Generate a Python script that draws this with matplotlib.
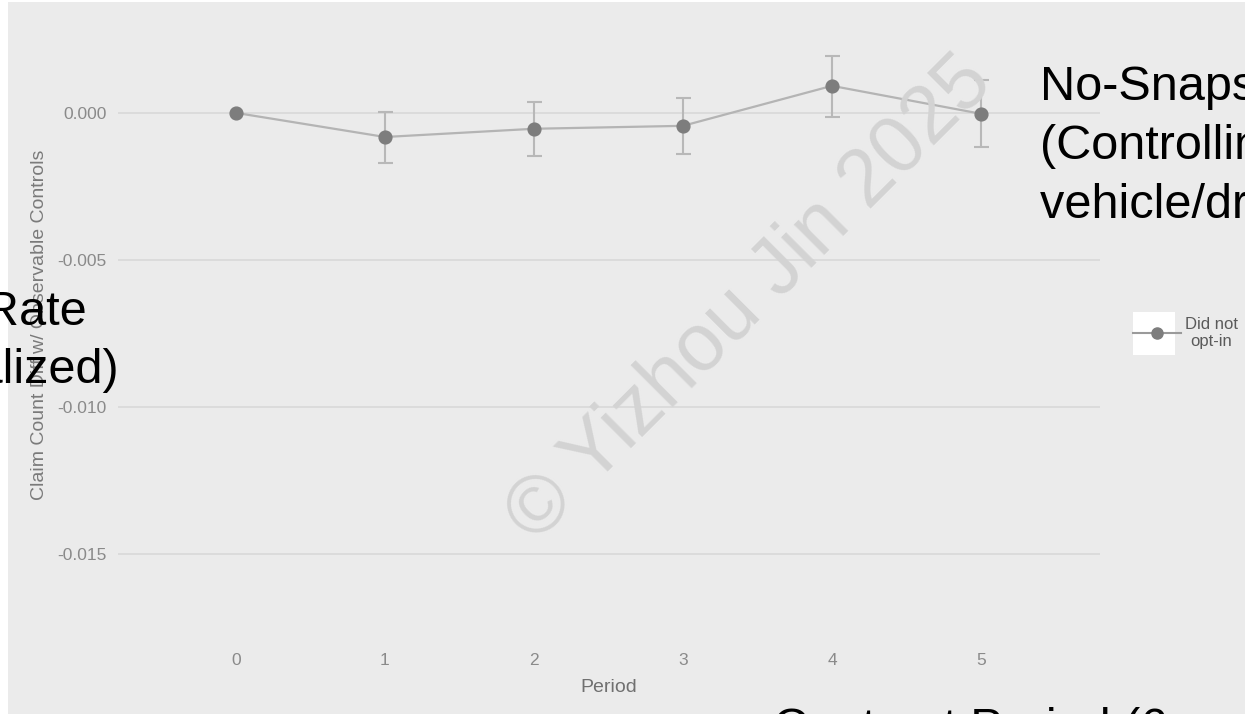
#!/usr/bin/env python3

import numpy as np
import matplotlib.pyplot as plt
from matplotlib.lines import Line2D
from matplotlib.patches import Rectangle

# claim count difference by contract period, drivers who did not opt in
periods = [0, 1, 2, 3, 4, 5]
estimate = [0.0, -0.00082, -0.00054, -0.00044, 0.00092, -0.00003]
ci_low = [np.nan, -0.00170, -0.00146, -0.00140, -0.00014, -0.00116]
ci_high = [np.nan, 0.00003, 0.00037, 0.00051, 0.00194, 0.00112]

yticks = [0.0, -0.005, -0.010, -0.015]
ytick_labels = ['0.000', '-0.005', '-0.010', '-0.015']
series_name = 'Did not\nopt-in'

W, H = 1245, 714
BG = '#ebebeb'

plt.rcParams['font.family'] = ['Liberation Sans', 'DejaVu Sans']

def fx(px):
    return px / W

def fy(py):
    return 1 - py / H

fig = plt.figure(figsize=(W / 100, H / 100), dpi=100, facecolor=BG)

# thin white border on the left and top edge
fig.patches.append(Rectangle((0, 0), fx(8), 1, transform=fig.transFigure,
                             facecolor='white', edgecolor='none', zorder=-5))
fig.patches.append(Rectangle((0, fy(2)), 1, 1 - fy(2), transform=fig.transFigure,
                             facecolor='white', edgecolor='none', zorder=-5))

ax = fig.add_axes([fx(118), fy(645), fx(1100) - fx(118), fy(5) - fy(645)])
ax.set_facecolor(BG)
for s in ax.spines.values():
    s.set_visible(False)

est = np.array(estimate)
lo = np.array(ci_low)
hi = np.array(ci_high)

ax.plot(periods, est, color='#b4b4b4', lw=1.6, zorder=3)
ax.errorbar(periods, est, yerr=[est - lo, hi - est], fmt='none',
            ecolor='#b8b8b8', elinewidth=1.5, capsize=5.4, capthick=1.5, zorder=2)
ax.plot(periods, est, 'o', color='#7d7d7d', ms=9.2, zorder=4)

ax.set_xlim(-0.792, 5.799)
ax.set_ylim(-0.0181, 0.00367)
ax.set_xticks(periods)
ax.set_xticklabels([str(p) for p in periods])
ax.set_yticks(yticks)
ax.set_yticklabels(ytick_labels)
ax.tick_params(length=0, labelsize=12.5, labelcolor='#8a8a8a')
ax.tick_params(axis='x', pad=6)
ax.tick_params(axis='y', pad=8)
ax.grid(axis='y', color='#dadada', lw=1.3)
ax.set_axisbelow(True)

ax.set_xlabel('Period', fontsize=14, color='#707070')
ax.xaxis.set_label_coords(0.5, (645 - 688) / 640)
ax.xaxis.label.set_va('center')
ax.set_ylabel('Claim Count Diff w/ Observable Controls', fontsize=14, color='#7a7a7a')
ax.yaxis.set_label_coords((40 - 118) / 982, (645 - 325) / 640)
ax.yaxis.label.set_va('center')

# legend with a white key box
fig.patches.append(Rectangle((fx(1133), fy(355)), fx(1175) - fx(1133), fy(312) - fy(355),
                             transform=fig.transFigure, facecolor='white',
                             edgecolor='none', zorder=1))
key = Line2D([], [], color='#9a9a9a', lw=1.5, marker='o', ms=8, markerfacecolor='#7d7d7d',
             markeredgecolor='#7d7d7d')
leg = fig.legend(handles=[key], labels=[series_name], loc='center left',
                 bbox_to_anchor=(fx(1133), fy(333)), frameon=False, fontsize=12,
                 handlelength=2.9, handletextpad=0.2, borderpad=0, borderaxespad=0)
leg.set_zorder(5)
for t in leg.get_texts():
    t.set_multialignment('center')
    t.set_color('#5a5a5a')

# watermark
fig.text(fx(750), fy(300), '\u00a9 Yizhou Jin 2025', fontsize=58, color='#d3d3d3',
         rotation=45, rotation_mode='anchor', ha='center', va='center', zorder=6)

# slide annotations
big = dict(fontsize=35, color='black', zorder=7)
for i, line in enumerate(['No-Snaps', '(Controlling for', 'vehicle/driver chars)']):
    fig.text(fx(1040), fy(100 + 59 * i), line, ha='left', va='baseline', **big)
for i, line in enumerate(['Claim Rate', '(Annualized)']):
    fig.text(fx(-154), fy(325 + 58 * i), line, ha='left', va='baseline', **big)
fig.text(fx(773), fy(742), 'Contract Period (6-month)', ha='left', va='baseline', **big)

fig.savefig('out.png', dpi=100, facecolor=BG)
